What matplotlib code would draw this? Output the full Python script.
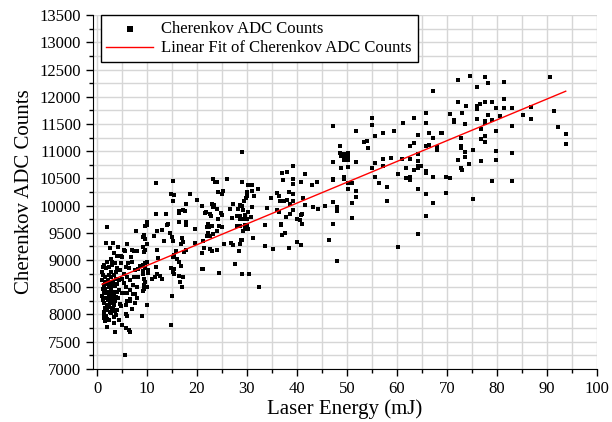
import numpy as np
import matplotlib
matplotlib.use("Agg")
import matplotlib.pyplot as plt
from matplotlib.ticker import MultipleLocator

# laser energy (mJ) and Cherenkov ADC counts, read off the picture region by region
# low energy cluster (x < 8.6)
x_low = [2.0, 1.7, 3.2, 7.9, 5.3, 5.5, 7.0, 7.5, 8.0, 3.3, 3.9, 2.7, 3.0, 4.7, 5.0, 7.0,
         1.3, 1.1, 1.7, 2.3, 3.0, 3.5, 4.0, 4.5, 5.7, 6.3, 5.3, 7.7, 8.3,
         1.0, 1.5, 1.3, 2.3, 2.7, 3.3, 3.7, 4.3, 5.0, 5.3, 6.0, 6.5, 7.3, 8.0,
         2.3, 2.7, 3.3, 2.0, 4.3, 5.0, 5.7, 6.7, 5.7, 7.3, 1.3,
         1.7, 2.3, 2.8, 3.3, 4.0, 5.3, 6.0, 7.7, 1.7, 2.3, 3.0, 3.7,
         1.3, 1.9, 2.7, 3.3, 5.7, 5.9, 6.7, 7.7, 1.5, 2.3, 3.2,
         1.3, 1.7, 2.7, 3.7, 5.7, 6.0, 1.3, 1.9, 3.3, 2.0, 3.5, 5.7, 6.3, 6.5, 5.5,
         1.0, 1.2, 1.5, 1.8, 2.1, 2.5, 2.9, 3.1, 3.6, 3.9, 1.1, 1.6, 2.2, 2.6, 3.0, 3.5,
         4.2, 1.0, 1.4, 2.0, 2.5, 3.0, 3.4, 1.6, 2.4, 4.5, 4.8, 4.0, 1.2, 2.8, 3.8, 1.9,
         2.5, 4.2, 6.0, 6.8, 6.2, 7.5, 8.2, 4.8, 3.6, 4.3, 5.0, 6.6, 7.0, 8.0]
y_low = [9600, 9305, 9316, 9537, 9180, 9160, 9190, 9160, 9170, 9120, 9077, 9010, 8967, 9071, 9047, 8967,
         8905, 8875, 8845, 8875, 8905, 8936, 8845, 8814, 8875, 8845, 8752, 8814, 8830,
         8630, 8600, 8538, 8720, 8690, 8720, 8660, 8630, 8660, 8570, 8690, 8630, 8538, 8507,
         8507, 8460, 8415, 8385, 8446, 8385, 8507, 8446, 8385, 8373, 8415,
         8390, 8420, 8390, 8400, 8420, 8400, 8390, 8380, 8300, 8330, 8280, 8315,
         8207, 8176, 8207, 8176, 8176, 8238, 8238, 8207, 8115, 8145, 8115,
         7993, 7962, 8023, 7993, 8010, 7962, 7930, 7913, 7840, 7766, 7686, 7747, 7705, 7668, 7257,
         8780, 8720, 8680, 8560, 8640, 8580, 8540, 8600, 8520, 8560, 8460, 8470, 8270, 8240, 8350, 8250,
         8300, 8340, 8050, 8080, 8050, 8060, 7950, 7880, 7900, 8200, 8150, 8080, 8260, 8780, 8780, 8970,
         9230, 9240, 9300, 9060, 8950, 8680, 8680, 8940, 8060, 7900, 7800, 8280, 8100, 8300]

# 8.6 <= x < 19
x_b = [11.8, 15.2, 14.8, 15.5, 15.3, 18.7, 11.8, 13.9, 16.4, 17.2, 16.5, 17.6,
       16.5, 17.8, 17.8, 10.0, 10.0, 14.3, 14.0, 13.1, 12.1, 9.5, 11.5, 14.7, 15.0, 13.5,
       9.6, 10.0, 9.3, 9.7, 9.5, 12.0, 15.3, 17.0, 17.3, 16.8,
       12.3, 10.0, 9.7, 15.2, 15.5, 16.1, 16.5, 16.8, 15.9, 17.5, 17.9,
       8.7, 9.2, 9.7, 10.3, 9.3, 9.2, 10.3, 11.9, 14.9, 15.5, 15.3, 15.5, 16.5, 17.2, 16.7,
       12.0, 12.7, 13.0, 11.0, 11.7, 9.5, 9.7, 9.5, 10.0, 9.5, 9.3,
       17.0, 15.1, 10.1, 9.1, 14.9, 9.7, 9.3, 17.9]
y_b = [10420, 10457, 10212, 10194, 10083, 10212, 9844, 9838, 9900, 9920, 9870, 9910,
       9690, 9700, 9650, 9690, 9640, 9670, 9640, 9550, 9540, 9460, 9450, 9500, 9428, 9348,
       9380, 9300, 9240, 9180, 9140, 9183, 9354, 9397, 9330, 9287,
       9030, 8970, 8940, 9060, 9090, 9017, 8970, 8890, 9164, 9150, 9180,
       8890, 8907, 8850, 8820, 8790, 8735, 8760, 8864, 8860, 8830, 8785, 8735, 8710, 8690, 8600,
       8735, 8705, 8660, 8660, 8690, 8660, 8600, 8540, 8510, 8470, 8430,
       8500, 8340, 8170, 7975, 7800, 9620, 9426, 10030]

# 19 <= x < 44.5
x_c = [29.0, 37.0, 38.0, 39.3, 41.7, 44.0, 43.1, 40.9, 39.3, 39.3, 37.3, 38.5, 39.3,
       36.1, 36.4, 36.7, 34.9, 37.5, 38.0, 38.7, 39.3, 41.3, 41.7, 43.2, 44.2, 36.0, 36.5,
       38.7, 39.3, 37.9, 40.0, 40.7, 41.1, 40.9, 41.0, 36.8, 36.8, 37.7, 37.1, 40.0, 40.8,
       38.5, 35.2, 33.6, 33.6, 34.1,
       32.3, 31.5, 31.0, 30.3, 31.1, 30.1, 30.0, 29.0, 29.8, 29.5, 29.1, 28.7, 28.3, 29.3,
       28.0, 28.7, 29.7, 30.3, 31.0, 30.8, 28.7, 29.3, 30.0, 29.7, 28.7, 28.0, 30.0, 30.3,
       29.3, 29.7, 30.1, 31.3, 29.0, 28.7, 28.8, 28.5, 27.7, 29.0, 30.4, 32.5,
       26.1, 23.2, 23.7, 24.1, 25.3, 25.1, 24.3, 23.1, 23.5, 23.3, 20.1,
       21.0, 21.7, 21.9, 22.7, 22.8, 24.1, 24.3, 24.8, 25.0, 26.7, 27.3, 27.0,
       19.6, 22.3, 22.1, 22.5, 23.1, 24.5, 25.0, 24.1, 22.3, 22.0, 21.3, 23.3, 22.7,
       19.7, 21.5, 21.1, 22.7, 23.0, 24.1, 25.5, 26.8, 27.2, 21.3, 21.1, 24.5]
y_c = [10986, 10607, 10619, 10730, 10576, 10435, 10374, 10435, 10484, 10392, 10472, 10257, 10208,
       10239, 10178, 10086, 10147, 10086, 10098, 10025, 10086, 10147, 10006, 9982, 9933, 9914, 9890,
       9840, 9914, 9798, 9761, 9737, 9840, 9821, 9669, 9669, 9640, 9504, 9455, 9332, 9277,
       9228, 9197, 9259, 9640, 9951,
       10300, 10178, 10374, 10374, 10270, 10257, 10178, 10441, 10147, 10086, 9994, 10006, 9933, 9914,
       9800, 9810, 9820, 9890, 9970, 9790, 9760, 9750, 9760, 9650, 9620, 9620, 9620, 9570,
       9540, 9570, 9600, 9400, 9370, 9290, 9360, 9167, 8934, 8738, 8738, 8505,
       10496, 10484, 10435, 10435, 10270, 10220, 10257, 10025, 10006, 9975, 10098,
       9994, 9870, 9880, 9840, 9810, 9933, 9750, 9870, 9835, 9933, 10025, 9780,
       9565, 9669, 9600, 9600, 9630, 9625, 9615, 9535, 9500, 9440, 9350, 9470, 9440,
       9320, 9215, 9124, 9197, 9167, 9186, 9290, 9308, 9271, 8842, 8830, 8769]

# 44.5 <= x < 69
x_d = [67.3, 65.9, 65.9, 64.2, 63.5, 66.5, 68.9, 67.2, 65.9, 66.5, 68.1, 68.1, 62.7, 63.4,
       61.2, 59.5, 57.3, 55.7, 55.0, 55.0, 54.2, 53.5, 54.0, 51.9, 47.3, 48.7,
       48.7, 48.9, 49.5, 50.3, 49.5, 50.3, 49.5, 50.3, 47.2, 51.9, 48.9, 50.3, 47.2, 47.2,
       49.5, 49.5, 50.3, 51.1, 50.3, 51.9, 51.9, 51.1,
       45.7, 47.2, 48.0, 48.0, 47.3, 46.5, 48.0, 51.1,
       55.0, 55.7, 57.3, 57.3, 58.9, 55.7, 56.5, 58.1, 58.1, 60.3, 61.1, 61.9, 62.7, 61.9,
       62.7, 62.7, 63.4, 64.2, 64.3, 64.2, 64.2, 64.9, 64.2, 65.9, 65.9, 65.9, 65.9, 64.2,
       60.3, 67.3, 67.3]
y_d = [12115, 11705, 11521, 11300, 11613, 11337, 11337, 11239, 11104, 11123, 11074, 11025, 11092, 11147,
       11521, 11368, 11337, 11276, 11619, 11484, 11067, 11165, 11184, 11380, 11472, 11092,
       10960, 10920, 10945, 10960, 10880, 10900, 10830, 10830, 10810, 10810, 10700, 10712, 10490, 10470,
       10520, 10485, 10418, 10418, 10300, 10277, 10155, 10056,
       9990, 10075, 9970, 9910, 9665, 9364, 8990, 9780,
       10700, 10775, 10850, 10730, 10870, 10522, 10418, 10350, 10093, 10590, 10850, 10690, 10858, 10510,
       10520, 10475, 10657, 10690, 10720, 10816, 10940, 10720, 10308, 10630, 10595, 10216, 9818, 9480,
       9236, 10522, 10056]

# x >= 69
x_e = [72.2, 74.6, 77.7, 78.3, 76.1, 81.5, 90.7, 72.2, 73.8, 70.7, 71.5, 71.5, 73.0, 73.7,
       76.1, 76.1, 76.7, 77.7, 79.1, 79.9, 81.5, 81.5, 83.0, 76.1, 77.6, 77.6, 79.1, 78.3,
       80.7, 76.8, 79.9, 83.0, 85.3, 86.9, 86.9, 91.5, 92.3, 93.8, 93.8, 69.1, 72.9, 72.9,
       72.9, 73.7, 73.7, 75.3, 77.6, 77.6, 76.9, 72.2, 72.9, 73.0, 74.5, 76.9, 79.9, 79.9,
       83.0, 79.1, 83.0, 69.9, 70.6, 69.9, 75.3]
y_e = [12309, 12376, 12364, 12248, 12180, 12272, 12358, 11911, 11825, 11690, 11567, 11543, 11708, 11494,
       11830, 11782, 11862, 11911, 11905, 11800, 11966, 11800, 11800, 11586, 11555, 11525, 11573, 11665,
       11641, 11414, 11371, 11463, 11672, 11806, 11598, 11739, 11451, 11310, 11126, 11335, 11237, 11096,
       11053, 10992, 10893, 11016, 11280, 11175, 11218, 10832, 10697, 10655, 10759, 10820, 11004, 10838,
       10960, 10446, 10452, 10532, 10514, 10226, 10121]

energy = np.array(x_low + x_b + x_c + x_d + x_e)
counts = np.array(y_low + y_b + y_c + y_d + y_e)

plt.rcParams['font.family'] = ['Liberation Serif', 'DejaVu Serif']

fig = plt.figure(figsize=(6.12, 4.22), dpi=100)
ax = fig.add_axes([0.152, 0.126, 0.823, 0.838])

# linear fit of the counts against energy
slope, intercept = np.polyfit(energy, counts, 1)
xfit = np.array([energy.min(), energy.max()])

ax.scatter(energy, counts, s=10, marker='s', color='black', linewidths=0,
           label='Cherenkov ADC Counts', zorder=3)
ax.plot(xfit, intercept + slope * xfit, color='red', lw=1,
        label='Linear Fit of Cherenkov ADC Counts', zorder=4)

ax.set_xlim(-0.8, 100)
ax.set_ylim(7000, 13500)
ax.xaxis.set_major_locator(MultipleLocator(10))
ax.xaxis.set_minor_locator(MultipleLocator(5))
ax.yaxis.set_major_locator(MultipleLocator(500))
ax.yaxis.set_minor_locator(MultipleLocator(250))
ax.grid(which='both', color='#d6d6d6', lw=1, zorder=0)
ax.set_axisbelow(True)
ax.spines['top'].set_visible(False)
ax.spines['right'].set_visible(False)
ax.tick_params(which='major', direction='out', length=5, width=1, labelsize=12)
ax.tick_params(which='minor', direction='out', length=3, width=1)

ax.set_xlabel('Laser Energy (mJ)', fontsize=15, labelpad=2)
ax.set_ylabel('Cherenkov ADC Counts', fontsize=15, labelpad=4)

leg = ax.legend(loc='upper left', bbox_to_anchor=(0.015, 1.0), borderaxespad=0,
                fontsize=12, fancybox=False, edgecolor='black', framealpha=1,
                handlelength=2.8, handletextpad=0.5, markerscale=1.2,
                borderpad=0.35, labelspacing=0.2)
leg.get_frame().set_linewidth(1)

fig.savefig('out.png', dpi=100)
